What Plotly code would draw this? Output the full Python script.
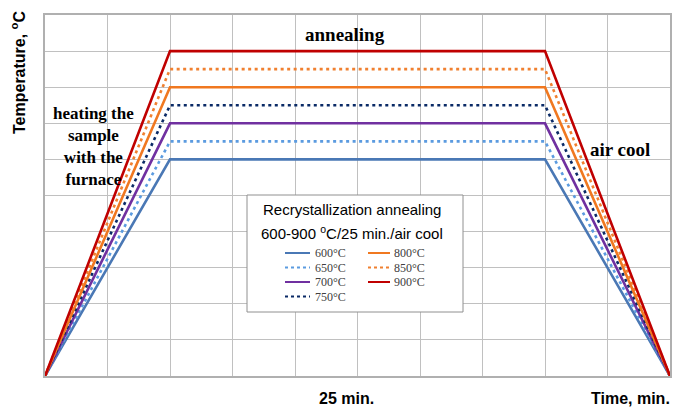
import plotly.graph_objects as go

# Data
temps = [600, 650, 700, 750, 800, 850, 900]
labels = ["600°C", "650°C", "700°C", "750°C", "800°C", "850°C", "900°C"]
colors = ["#4A78B5", "#5B9BE0", "#7030A0", "#0A2A66", "#F07820", "#F08030", "#C00000"]
dashes = ["solid", "3px,3.5px", "solid", "3px,3.5px", "solid", "3px,3.5px", "solid"]
time_pts = [0, 2, 8, 10]          # heating end at 2, cooling start at 8, end at 10
x_range = [0, 10]
y_range = [0, 1000]

fig = go.Figure()
for t, lab, c, d in zip(temps, labels, colors, dashes):
    fig.add_trace(go.Scatter(
        x=time_pts, y=[0, t, t, 0], mode="lines", name=lab,
        line=dict(color=c, width=2.6, dash=d), showlegend=False,
    ))

W0, W1, H0, H1 = 45, 670, 15, 376
def px(x): return (x - W0) / (W1 - W0)
def py(y): return (H1 - y) / (H1 - H0)

serif = "Liberation Serif"
sans = "Liberation Sans"

fig.update_layout(
    width=678, height=407,
    margin=dict(l=W0, r=678 - W1, t=H0, b=407 - H1, autoexpand=False),
    plot_bgcolor="white", paper_bgcolor="white",
    showlegend=False,
    xaxis=dict(range=x_range, dtick=1, showgrid=True, gridcolor="#C0C0C0", gridwidth=1.3,
               showticklabels=False, zeroline=False, showline=True, linecolor="#B0B0B0",
               linewidth=1.5, mirror=True, ticks=""),
    yaxis=dict(range=y_range, dtick=100, showgrid=True, gridcolor="#C0C0C0", gridwidth=1.3,
               showticklabels=False, zeroline=False, showline=True, linecolor="#B0B0B0",
               linewidth=1.5, mirror=True, ticks=""),
)

# legend box
fig.add_shape(type="rect", xref="paper", yref="paper",
              x0=px(247), x1=px(463), y0=py(312), y1=py(195),
              fillcolor="white", line=dict(color="#909090", width=1), layer="above")

def ann(text, x, y, size, family, bold=True, color="black", xanchor="center", **kw):
    fig.add_annotation(text=f"<b>{text}</b>" if bold else text, xref="paper", yref="paper",
                       x=px(x), y=py(y), showarrow=False, xanchor=xanchor, yanchor="middle",
                       font=dict(family=family, size=size, color=color), **kw)

# legend entries (two columns)
for i, (lab, c, d) in enumerate(zip(labels, colors, dashes)):
    col = 0 if i < 4 else 1
    row = i if i < 4 else i - 4
    ly = 253 + row * 14.5
    lx0, lx1, tx = (285, 310, 313) if col == 0 else (368, 390, 392)
    fig.add_shape(type="line", xref="paper", yref="paper",
                  x0=px(lx0), x1=px(lx1), y0=py(ly), y1=py(ly),
                  line=dict(color=c, width=2, dash="dot" if d != "solid" else "solid"),
                  layer="above")
    ann(lab, tx, ly, 12, serif, bold=False, color="#404040", xanchor="left")

ann("Recrystallization annealing", 352, 210, 15, sans, bold=False)
ann("600-900 <sup>o</sup>C/25 min./air cool", 352, 232, 15, sans, bold=False)
ann("annealing", 345, 34, 19, serif)
ann("heating the<br>sample<br>with the<br>furnace", 93, 147, 17, serif)
ann("air cool", 620, 149, 19, serif)
ann("25 min.", 346, 398, 16, sans)
ann("Time, min.", 630, 398, 16, sans)
ann("Temperature, <sup>o</sup>C", 18, 73, 16, sans, textangle=-90)

fig.write_html("out.html", config={"displayModeBar": False},
               post_script="document.body.style.margin='0';")
